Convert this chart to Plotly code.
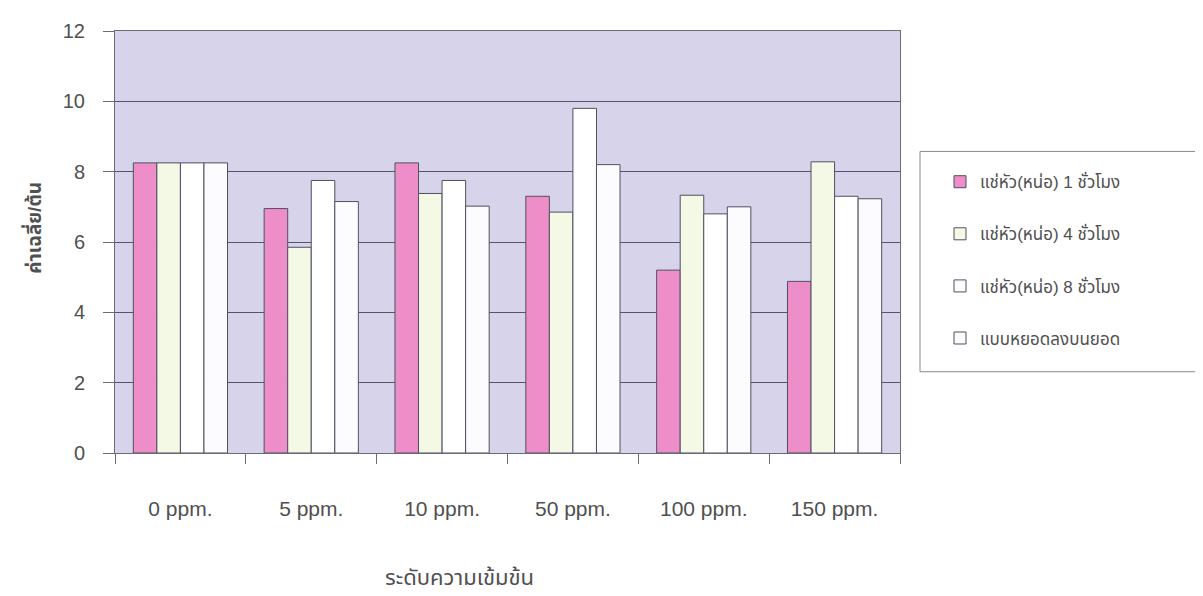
import plotly.graph_objects as go

categories = ["0 ppm.", "5 ppm.", "10 ppm.", "50 ppm.", "100 ppm.", "150 ppm."]
series_names = ["แช่หัว(หน่อ) 1 ชั่วโมง", "แช่หัว(หน่อ) 4 ชั่วโมง",
                "แช่หัว(หน่อ) 8 ชั่วโมง", "แบบหยอดลงบนยอด"]
s1 = [8.25, 6.95, 8.25, 7.30, 5.20, 4.88]
s2 = [8.25, 5.85, 7.38, 6.85, 7.33, 8.28]
s3 = [8.25, 7.75, 7.75, 9.80, 6.80, 7.30]
s4 = [8.25, 7.15, 7.02, 8.20, 7.00, 7.23]
y_ticks = [0, 2, 4, 6, 8, 10, 12]

colors = ["#EE8EC9", "#F4F9E6", "#FFFFFF", "#FCFCFF"]
values = [s1, s2, s3, s4]

fig = go.Figure()
for i, (name, vals) in enumerate(zip(series_names, values)):
    fig.add_trace(go.Bar(
        x=categories, y=vals, name=name, legendgroup=f"g{i}",
        marker=dict(color=colors[i], line=dict(color="#4F4F63", width=1)),
    ))

FONT = "Liberation Sans, Arial, Noto Sans Thai, sans-serif"
W, H = 1203, 596
OFF = 8  # page body margin
# plot area in reference (page) pixels
PX0, PX1, PY0, PY1 = 115, 900, 22, 453
L = PX0 - OFF
T = PY0 - OFF
R = W - (PX1 - OFF)
B = H - (PY1 - OFF)
pw = PX1 - PX0
ph = PY1 - PY0

def px_x(x):
    return (x - PX0) / pw

def px_y(y):
    return (PY1 - y) / ph

fig.update_layout(
    width=W, height=H,
    margin=dict(l=L, r=R, t=T, b=B),
    paper_bgcolor="white",
    plot_bgcolor="#D7D3EA",
    barmode="group",
    bargap=0.28,
    bargroupgap=0,
    font=dict(family=FONT, color="#505050"),
    showlegend=True,
    legend=dict(
        x=px_x(940), y=px_y(158), xanchor="left", yanchor="top",
        bgcolor="rgba(0,0,0,0)", borderwidth=0,
        font=dict(size=17, color="#505050", family=FONT),
        tracegroupgap=27, itemwidth=30,
    ),
    xaxis=dict(
        type="category", showgrid=False, ticks="outside", tickson="boundaries",
        ticklen=10, tickcolor="#6A6A7A", showline=True, linecolor="#6A6A7A",
        linewidth=1, mirror=True,
        tickfont=dict(size=21, color="#505050", family=FONT),
        ticklabelstandoff=37,
    ),
    yaxis=dict(
        range=[0, 12], tickvals=y_ticks, showgrid=True, gridcolor="#55556A",
        gridwidth=1, ticks="outside", ticklen=11, tickcolor="#6A6A7A",
        showline=True, linecolor="#6A6A7A", linewidth=1, mirror=True,
        tickfont=dict(size=20, color="#505050", family=FONT),
        ticklabelstandoff=14, zeroline=False,
    ),
    shapes=[dict(
        type="rect", xref="paper", yref="paper",
        x0=px_x(920), x1=px_x(1196), y0=px_y(370), y1=px_y(145),
        line=dict(color="#8A8A8A", width=1), fillcolor="rgba(0,0,0,0)",
    )],
    annotations=[
        dict(text="<b>ค่าเฉลี่ย/ต้น</b>", xref="paper", yref="paper",
             x=px_x(33), y=px_y(223), textangle=-90, showarrow=False,
             font=dict(size=19, color="#505050", family=FONT),
             xanchor="center", yanchor="middle"),
        dict(text="ระดับความเข้มข้น", xref="paper", yref="paper",
             x=px_x(459), y=px_y(580), showarrow=False,
             font=dict(size=22, color="#505050", family=FONT),
             xanchor="center", yanchor="middle"),
    ],
)

fig.write_html("out.html")
